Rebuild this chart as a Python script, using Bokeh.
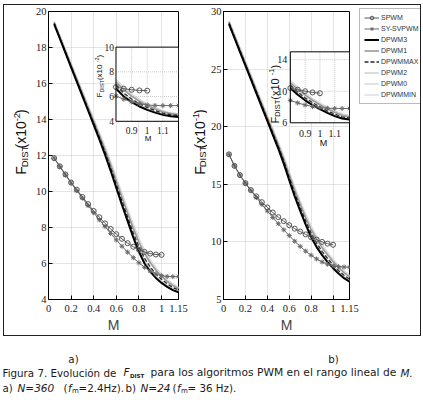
import math
from bokeh.plotting import figure
from bokeh.models import Range1d, FixedTicker, Label, Legend, LegendItem, Spacer
from bokeh.layouts import row, column
from bokeh.core.properties import value
from bokeh.embed import file_html
from bokeh.resources import INLINE

# ---------------- data ----------------
M = [0.05, 0.10, 0.15, 0.20, 0.25, 0.30, 0.35, 0.40, 0.45, 0.50, 0.55, 0.60,
     0.65, 0.70, 0.75, 0.80, 0.85, 0.90, 0.95, 1.00, 1.05, 1.10, 1.15, 1.20]
M_SPWM = M[:20]

# a) N = 360, F_DIST (x10^-2)
a_spwm = [11.85, 11.40, 10.95, 10.50, 10.10, 9.70, 9.30, 8.92, 8.57, 8.23,
          7.92, 7.63, 7.37, 7.13, 6.93, 6.77, 6.64, 6.55, 6.50, 6.48]
a_sysvpwm = [11.85, 11.38, 10.92, 10.47, 10.05, 9.63, 9.22, 8.82, 8.43, 8.05, 7.67, 7.31,
             6.96, 6.63, 6.32, 6.04, 5.79, 5.58, 5.42, 5.32, 5.28, 5.27, 5.27, 5.27]
a_dpwm3 = [19.30, 18.50, 17.70, 16.90, 16.10, 15.30, 14.50, 13.70, 12.90, 12.05, 11.15, 10.20,
           9.25, 8.35, 7.45, 6.65, 6.00, 5.55, 5.20, 4.92, 4.70, 4.52, 4.40, 4.35]
a_dpwm1 = [19.40, 18.61, 17.82, 17.03, 16.25, 15.47, 14.69, 13.91, 13.13, 12.33, 11.48, 10.58,
           9.68, 8.80, 7.95, 7.18, 6.55, 6.04, 5.62, 5.28, 5.00, 4.78, 4.62, 4.54]
a_dpwmmax = [19.35, 18.55, 17.76, 16.96, 16.17, 15.38, 14.59, 13.80, 13.01, 12.19, 11.32, 10.40,
             9.47, 8.58, 7.70, 6.92, 6.28, 5.80, 5.42, 5.12, 4.87, 4.67, 4.53, 4.46]
a_dpwm2 = [19.45, 18.67, 17.89, 17.11, 16.34, 15.57, 14.80, 14.03, 13.26, 12.48, 11.65, 10.77,
           9.88, 9.01, 8.16, 7.38, 6.73, 6.20, 5.76, 5.40, 5.10, 4.86, 4.68, 4.58]
a_dpwm0 = [19.33, 18.53, 17.73, 16.93, 16.13, 15.34, 14.55, 13.75, 12.96, 12.13, 11.25, 10.32,
           9.38, 8.48, 7.60, 6.82, 6.18, 5.70, 5.33, 5.04, 4.80, 4.61, 4.48, 4.42]
a_dpwmmin = [19.42, 18.64, 17.86, 17.07, 16.29, 15.51, 14.74, 13.96, 13.19, 12.40, 11.56, 10.67,
             9.77, 8.90, 8.05, 7.28, 6.64, 6.12, 5.69, 5.34, 5.05, 4.82, 4.65, 4.56]

# b) N = 24, F_DIST (x10^-1)
b_spwm = [17.60, 16.60, 15.80, 15.10, 14.50, 13.95, 13.45, 13.00, 12.55, 12.15,
          11.80, 11.45, 11.15, 10.90, 10.65, 10.40, 10.20, 10.00, 9.85, 9.75]
b_sysvpwm = [17.60, 16.60, 15.80, 15.08, 14.45, 13.85, 13.25, 12.68, 12.12, 11.58, 11.05, 10.55,
             10.06, 9.61, 9.20, 8.84, 8.52, 8.26, 8.06, 7.92, 7.85, 7.82, 7.81, 7.81]
b_dpwm3 = [28.90, 27.70, 26.50, 25.30, 24.10, 22.90, 21.70, 20.50, 19.30, 18.10, 16.80, 15.35,
           13.95, 12.70, 11.50, 10.40, 9.55, 8.85, 8.25, 7.72, 7.25, 6.85, 6.55, 6.42]
b_dpwm1 = [29.10, 27.91, 26.72, 25.53, 24.35, 23.17, 21.99, 20.81, 19.63, 18.45, 17.22, 15.83,
           14.50, 13.28, 12.13, 11.08, 10.23, 9.50, 8.86, 8.29, 7.77, 7.33, 6.96, 6.75]
b_dpwmmax = [29.00, 27.80, 26.61, 25.42, 24.23, 23.04, 21.85, 20.66, 19.47, 18.28, 17.02, 15.60,
             14.23, 12.99, 11.82, 10.75, 9.90, 9.18, 8.56, 8.01, 7.52, 7.10, 6.76, 6.58]
b_dpwm2 = [29.20, 28.02, 26.84, 25.66, 24.48, 23.31, 22.14, 20.97, 19.80, 18.63, 17.42, 16.05,
           14.74, 13.53, 12.39, 11.34, 10.48, 9.73, 9.07, 8.48, 7.95, 7.48, 7.10, 6.88]
b_dpwm0 = [28.95, 27.75, 26.55, 25.36, 24.16, 22.97, 21.77, 20.58, 19.38, 18.19, 16.91, 15.47,
           14.09, 12.85, 11.66, 10.58, 9.73, 9.02, 8.41, 7.87, 7.39, 6.98, 6.66, 6.50]
b_dpwmmin = [29.15, 27.96, 26.78, 25.60, 24.42, 23.24, 22.06, 20.89, 19.71, 18.54, 17.32, 15.94,
             14.62, 13.41, 12.26, 11.21, 10.36, 9.62, 8.97, 8.39, 7.86, 7.41, 7.03, 6.82]

series_names = ["SPWM", "SY-SVPWM", "DPWM3", "DPWM1", "DPWMMAX", "DPWM2", "DPWM0", "DPWMMIN"]

x_ticks = [0, 0.2, 0.4, 0.6, 0.8, 1.0, 1.15]
x_tick_labels = ["0", "0.2", "0.4", "0.6", "0.8", "1", "1.15"]
a_y_ticks = [4, 6, 8, 10, 12, 14, 16, 18, 20]
b_y_ticks = [5, 10, 15, 20, 25, 30]
inset_x_ticks = [0.9, 1.0, 1.1]
inset_x_tick_labels = ["0.9", "1", "1.1"]
a_inset_y_ticks = [4, 6, 8, 10]
b_inset_y_ticks = [6, 10, 14]

# ---------------- styles ----------------
TICK_FONT = "Liberation Sans Narrow"
TXT_FONT = "Liberation Sans"
CAP_FONT = "DejaVu Sans"
H = 330  # height of the boxed plot row (content)

STYLE = {
    "DPWM2": dict(line_color="#d4d4d4", line_width=1.6),
    "DPWM0": dict(line_color="#dcdcdc", line_width=1.6),
    "DPWMMIN": dict(line_color="#e2e2e2", line_width=1.6),
    "DPWM1": dict(line_color="#9a9a9a", line_width=1.6),
    "DPWMMAX": dict(line_color="#2a2a2a", line_width=1.3, line_dash="4 2"),
    "DPWM3": dict(line_color="#000000", line_width=2.0),
    "SY-SVPWM": dict(line_color="#6a6a6a", line_width=1.0),
    "SPWM": dict(line_color="#555555", line_width=1.0),
}
MARKER = {"SPWM": ("circle", 5), "SY-SVPWM": ("asterisk", 5)}
DRAW_ORDER = ["DPWM2", "DPWM0", "DPWMMIN", "DPWM1", "DPWMMAX", "DPWM3", "SY-SVPWM", "SPWM"]


def draw(api, name, m, v):
    rs = [api.line(m, v, **STYLE[name])]
    if name in MARKER:
        mk, sz = MARKER[name]
        rs.append(api.scatter(m, v, marker=mk, size=sz, line_color=STYLE[name]["line_color"],
                              fill_color=None, line_width=1))
    return rs


def blank_fig(width, height, y_down=False):
    f = figure(width=width, height=height, x_range=Range1d(0, width),
               y_range=Range1d(height, 0) if y_down else Range1d(0, height),
               output_backend="svg", toolbar_location=None, min_border=0,
               x_axis_location=None, y_axis_location=None)
    f.grid.visible = False
    f.outline_line_color = None
    f.background_fill_color = "white"
    f.border_fill_color = "white"
    return f


def vtitle(f, x0, pieces):
    # rotated title made of pieces: (text, page_x, page_y_start, size); y measured on page
    for txt, px, py, size in pieces:
        f.text(x=[px - x0], y=[5 + H - py], text=[txt], angle=math.pi / 2,
               text_align="left", text_baseline="middle", text_font=value(TXT_FONT),
               text_font_size=size, text_color="#111111")


def inset_title(p, frame_left, frame_bottom, pieces):
    for txt, px, py, size in pieces:
        p.add_layout(Label(x=px - frame_left, y=frame_bottom - py, x_units="screen", y_units="screen",
                           text=txt, angle=math.pi / 2, text_align="left", text_baseline="middle",
                           text_font=TXT_FONT, text_font_size=size, text_color="#111111"))


def panel(data, y_rng, y_ticks, width, mbl, mbr, mbb, inset):
    p = figure(width=width, height=H, x_range=Range1d(0, 1.15), y_range=Range1d(*y_rng),
               output_backend="svg", toolbar_location=None,
               min_border_left=mbl, min_border_right=mbr, min_border_top=6, min_border_bottom=mbb)
    p.background_fill_color = "white"
    p.border_fill_color = "white"
    p.outline_line_color = "black"
    p.outline_line_width = 1
    p.xaxis.ticker = FixedTicker(ticks=x_ticks)
    p.xaxis.major_label_overrides = {t: l for t, l in zip(x_ticks, x_tick_labels)}
    p.yaxis.ticker = FixedTicker(ticks=y_ticks)
    p.xgrid.ticker = FixedTicker(ticks=x_ticks)
    p.ygrid.ticker = FixedTicker(ticks=y_ticks)
    for g in (p.xgrid, p.ygrid):
        g.grid_line_color = "#c8c8c8"
        g.grid_line_dash = "1 1"
        g.grid_line_width = 1
    for ax in (p.xaxis, p.yaxis):
        ax.major_tick_in = 4
        ax.major_tick_out = 0
        ax.minor_tick_line_color = None
        ax.axis_line_color = "black"
        ax.major_label_text_font = TICK_FONT
        ax.major_label_text_font_size = "10.5px"
        ax.major_label_text_color = "#1a1a1a"
    p.xaxis.major_label_standoff = 5
    p.yaxis.major_label_standoff = 2
    p.xaxis.axis_label = "M"
    p.xaxis.axis_label_text_font = TXT_FONT
    p.xaxis.axis_label_text_font_size = "14px"
    p.xaxis.axis_label_text_font_style = "normal"
    p.xaxis.axis_label_standoff = 2

    for name in DRAW_ORDER:
        m = M_SPWM if name == "SPWM" else M
        draw(p, name, m, data[name])

    # inset axes drawn in a sub-coordinate system of the main plot
    xs, ys = inset["xs"], inset["ys"]
    sub = p.subplot(x_source=Range1d(*xs), y_source=Range1d(*ys),
                    x_target=Range1d(*inset["xt"]), y_target=Range1d(*inset["yt"]))
    sub.quad(left=[xs[0]], right=[xs[1]], bottom=[ys[0]], top=[ys[1]],
             fill_color="white", line_color=None)
    gx = inset_x_ticks
    sub.segment(x0=gx, x1=gx, y0=[ys[0]] * len(gx), y1=[ys[1]] * len(gx),
                line_color="#c8c8c8", line_dash="1 1", line_width=1)
    gy = [t for t in inset["yticks"] if ys[0] < t < ys[1]]
    sub.segment(x0=[xs[0]] * len(gy), x1=[xs[1]] * len(gy), y0=gy, y1=gy,
                line_color="#c8c8c8", line_dash="1 1", line_width=1)
    for name in DRAW_ORDER:
        m = M_SPWM if name == "SPWM" else M
        v = data[name]
        keep = [i for i, a in enumerate(m) if xs[0] - 1e-9 <= a <= xs[1] + 1e-9]
        draw(sub, name, [m[i] for i in keep], [v[i] for i in keep])
    sub.quad(left=[xs[0]], right=[xs[1]], bottom=[ys[0]], top=[ys[1]],
             fill_color=None, line_color="black", line_width=1)
    yt = inset["yticks"]
    sub.text(x=[xs[0]] * len(yt), y=yt, text=[str(t) for t in yt], x_offset=inset["ylab_off"],
             text_align="right", text_baseline="middle", text_font=value(TICK_FONT),
             text_font_size=inset["tick_size"], text_color="#1a1a1a")
    sub.text(x=inset_x_ticks, y=[ys[0]] * len(inset_x_ticks), text=inset_x_tick_labels,
             y_offset=inset["xlab_off"], text_align="center", text_baseline="middle",
             text_font=value(TICK_FONT), text_font_size=inset["tick_size"], text_color="#1a1a1a")
    return p


data_a = dict(zip(series_names, [a_spwm, a_sysvpwm, a_dpwm3, a_dpwm1, a_dpwmmax, a_dpwm2, a_dpwm0, a_dpwmmin]))
data_b = dict(zip(series_names, [b_spwm, b_sysvpwm, b_dpwm3, b_dpwm1, b_dpwmmax, b_dpwm2, b_dpwm0, b_dpwmmin]))

inset_a = dict(xs=(0.8, 1.2), ys=(4, 10), xt=(0.597, 1.15), yt=(13.90, 18.02),
               yticks=a_inset_y_ticks, ylab_off=-2, xlab_off=9, tick_size="9.5px")
inset_b = dict(xs=(0.8, 1.2), ys=(6, 15), xt=(0.610, 1.15), yt=(20.34, 26.50),
               yticks=b_inset_y_ticks, ylab_off=-3, xlab_off=11, tick_size="10px")

# layout (page px): box content x 4..420, y 5..335
p1 = panel(data_a, (4, 20), a_y_ticks, 158, 15, 12, 33, inset_a)     # x 32..190, frame 47..178
p2 = panel(data_b, (5, 30), b_y_ticks, 152, 12, 10, 32, inset_b)     # x 207..359, frame 219..349

# inset y titles and x titles (inside the frames)
FL1, FB1 = 47, 302
FL2, FB2 = 219, 303
inset_title(p1, FL1, FB1, [("F", 98, 100, "8px"), ("DIST", 100, 95.1, "5.5px"),
                           (" (x10", 98, 82.6, "8px"), ("-2", 95.5, 64.8, "5.5px"), (")", 98, 59.9, "8px")])
inset_title(p2, FL2, FB2, [("F", 270, 127, "11px"), ("DIST", 272.5, 120.3, "7.5px"),
                           (" (x10", 270, 103.2, "11px"), ("-1", 267, 78.7, "7.5px"), (")", 270, 72, "11px")])
p1.add_layout(Label(x=146.7 - FL1, y=FB1 - 140.7, x_units="screen", y_units="screen", text="M",
                    text_align="center", text_baseline="middle", text_font=TXT_FONT,
                    text_font_size="8px", text_color="#111111"))
p2.add_layout(Label(x=319 - FL2, y=FB2 - 146, x_units="screen", y_units="screen", text="M",
                    text_align="center", text_baseline="middle", text_font=TXT_FONT,
                    text_font_size="9px", text_color="#111111"))

# main y titles in their own narrow strips
yl1 = blank_fig(28, H)    # x 4..32
vtitle(yl1, 4, [("F", 20, 192, "14px"), ("DIST", 23.5, 183.5, "9.5px"), (" (x10", 20, 161.9, "14px"),
                ("-2", 16, 130.8, "9.5px"), (")", 20, 122.4, "14px")])
yl2 = blank_fig(17, H)    # x 190..207
vtitle(yl2, 190, [("F", 199, 192, "14px"), ("DIST", 202, 183.5, "9.5px"), (" (x10", 199, 161.9, "14px"),
                  ("-1", 195, 130.8, "9.5px"), (")", 199, 122.4, "14px")])

# legend strip (x 359..420); renderers carry panel b data but are not drawn
LH = H - 3
lg = blank_fig(61, LH)
lg.x_range = Range1d(0, 1.15)
lg.y_range = Range1d(5, 30)
lrend = {}
for name in series_names:
    m = M_SPWM if name == "SPWM" else M
    rs = draw(lg, name, m, data_b[name])
    for r in rs:
        r.visible = False
    lrend[name] = rs
legend = Legend(items=[LegendItem(label=n, renderers=lrend[n]) for n in series_names],
                location="top_left", margin=0, padding=4, spacing=2,
                glyph_width=15, glyph_height=9, label_height=9, label_standoff=2,
                label_text_font=TXT_FONT, label_text_font_size="7px", label_text_color="#333333",
                border_line_color="#777777", border_line_width=1, background_fill_color="white",
                background_fill_alpha=1.0, inactive_fill_alpha=0.0)
lg.add_layout(legend)
lg_col = column(Spacer(height=3, width=61), lg)

boxed = row(yl1, p1, yl2, p2, lg_col, styles={"border": "1px solid #222222"})

# caption (page y 336..400)
cap = blank_fig(423, 64, y_down=True)
cap_plain = [("a)", 73, 22, "center", "10.3px"), ("b)", 333, 22, "center", "10.3px"),
             ("Figura 7. Evolución de", 2, 36, "left", "10.3px"),
             ("para los algoritmos PWM en el rango lineal de", 150, 36, "left", "10.7px"),
             ("a)", 2, 51, "left", "10.3px"), ("(", 63, 51, "left", "10.3px"),
             ("=2.4Hz).", 78, 51, "left", "10.3px"), ("b)", 125, 51, "left", "10.3px"),
             ("(", 172, 51, "left", "10.3px"), ("= 36 Hz).", 187, 51, "left", "10.3px"),
             ("m", 71.5, 54, "left", "7px"), ("m", 180.5, 54, "left", "7px")]
cap_italic = [("M.", 400, 36), ("N=360", 17, 51), ("f", 67.5, 51), ("N=24", 140, 51),
              ("f", 176.5, 51), ("F", 123, 35)]
for txt, x, y, al, sz in cap_plain:
    cap.text(x=[x], y=[y], text=[txt], text_align=al, text_baseline="middle",
             text_font=value(CAP_FONT), text_font_size=sz, text_color="#1a1a1a")
for txt, x, y in cap_italic:
    cap.text(x=[x], y=[y], text=[txt], text_align="left", text_baseline="middle",
             text_font=value(CAP_FONT), text_font_size="10.5px", text_font_style="italic",
             text_color="#1a1a1a")
cap.text(x=[129.5], y=[39], text=["DIST"], text_align="left", text_baseline="middle",
         text_font=value(CAP_FONT), text_font_size="5.5px", text_font_style="bold",
         text_color="#1a1a1a")

layout = column(Spacer(height=4), row(Spacer(width=3), boxed), cap)
open("out.html", "w").write(file_html(layout, INLINE))
